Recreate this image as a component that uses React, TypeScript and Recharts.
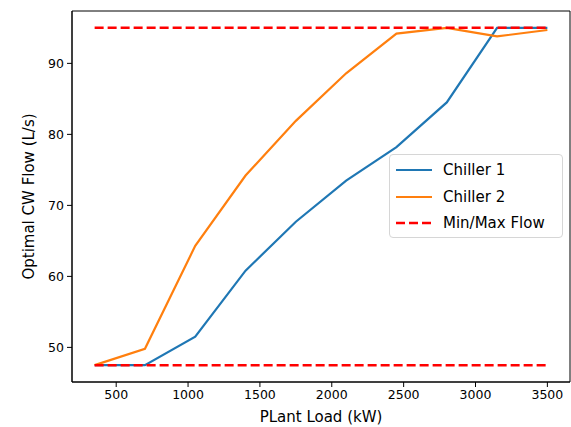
import React from 'react';
import {
  LineChart,
  Line,
  XAxis,
  YAxis,
  ReferenceArea,
} from 'recharts';

const plantLoad = [350, 700, 1050, 1400, 1750, 2100, 2450, 2800, 3150, 3500];
const chiller1 = [47.5, 47.5, 51.5, 60.8, 67.7, 73.5, 78.2, 84.5, 95.0, 95.0];
const chiller2 = [47.5, 49.8, 64.3, 74.2, 81.9, 88.6, 94.2, 95.0, 93.8, 94.7];

const flowLoads = [350, 3500];
const minFlow = [47.5, 47.5];
const maxFlow = [95, 95];

const xTicks = [500, 1000, 1500, 2000, 2500, 3000, 3500];
const yTicks = [50, 60, 70, 80, 90];

const chillerData = plantLoad.map((load, i) => ({
  load,
  chiller1: chiller1[i],
  chiller2: chiller2[i],
}));
const minData = flowLoads.map((load, i) => ({ load, flow: minFlow[i] }));
const maxData = flowLoads.map((load, i) => ({ load, flow: maxFlow[i] }));

const FONT = '"DejaVu Sans", sans-serif';
const xDomain = [192.5, 3657.5];
const yDomain = [45.125, 97.375];

const legendItems = [
  { label: 'Chiller 1', color: '#1f77b4', dash: undefined },
  { label: 'Chiller 2', color: '#ff7f0e', dash: undefined },
  { label: 'Min/Max Flow', color: '#ff0000', dash: '9 4' },
];

// matplotlib-like legend box, overlaid on the plot
const LegendBox: React.FC = () => (
  <div
    style={{
      position: 'absolute',
      left: 389,
      top: 154,
      width: 172,
      height: 80,
      border: '1px solid #d6d6d6',
      borderRadius: 4,
      background: 'rgba(255,255,255,0.8)',
      fontFamily: FONT,
      fontSize: 15,
      color: '#000',
      paddingTop: 2,
    }}
  >
    {legendItems.map((item) => (
      <div key={item.label} style={{ display: 'flex', alignItems: 'center', height: 26.5 }}>
        <svg width={53} height={10} style={{ flex: 'none' }}>
          <line
            x1={6}
            x2={42}
            y1={5}
            y2={5}
            stroke={item.color}
            strokeWidth={item.dash ? 2.5 : 2.2}
            strokeDasharray={item.dash}
          />
        </svg>
        <span>{item.label}</span>
      </div>
    ))}
  </div>
);

const App: React.FC = () => {
  return (
    <div style={{ position: 'absolute', left: 0, top: 0, width: 571, height: 427, background: '#fff' }}>
      <LineChart
        width={571}
        height={427}
        margin={{ top: 11, right: 1, left: 0, bottom: 0 }}
      >
        <XAxis
          dataKey="load"
          type="number"
          domain={xDomain}
          ticks={xTicks}
          allowDataOverflow
          height={45}
          tickSize={5}
          tickMargin={3}
          stroke="#000"
          tick={{ fill: '#000', fontSize: 12.5, fontFamily: FONT }}
          label={{
            value: 'PLant Load (kW)',
            position: 'insideBottom',
            offset: 5,
            style: { fill: '#000', fontSize: 15, fontFamily: FONT },
          }}
        />
        <YAxis
          type="number"
          domain={yDomain}
          ticks={yTicks}
          allowDataOverflow
          width={72}
          tickSize={5}
          tickMargin={3}
          stroke="#000"
          tick={{ fill: '#000', fontSize: 12.5, fontFamily: FONT }}
          label={{
            value: 'Optimal CW Flow (L/s)',
            angle: -90,
            position: 'insideLeft',
            offset: 29,
            style: { fill: '#000', fontSize: 15, fontFamily: FONT, textAnchor: 'middle' },
          }}
        />
        <ReferenceArea
          x1={xDomain[0]}
          x2={xDomain[1]}
          y1={yDomain[0]}
          y2={yDomain[1]}
          fill="none"
          stroke="#000"
          strokeWidth={1}
          ifOverflow="visible"
        />
        <Line
          data={chillerData}
          dataKey="chiller1"
          name="Chiller 1"
          stroke="#1f77b4"
          strokeWidth={2.2}
          dot={false}
          isAnimationActive={false}
        />
        <Line
          data={chillerData}
          dataKey="chiller2"
          name="Chiller 2"
          stroke="#ff7f0e"
          strokeWidth={2.2}
          dot={false}
          isAnimationActive={false}
        />
        <Line
          data={maxData}
          dataKey="flow"
          name="Max Flow"
          stroke="#ff0000"
          strokeWidth={2.5}
          strokeDasharray="9 4"
          dot={false}
          isAnimationActive={false}
        />
        <Line
          data={minData}
          dataKey="flow"
          name="Min Flow"
          stroke="#ff0000"
          strokeWidth={2.5}
          strokeDasharray="9 4"
          dot={false}
          isAnimationActive={false}
        />
      </LineChart>
      <LegendBox />
    </div>
  );
};

export default App;
